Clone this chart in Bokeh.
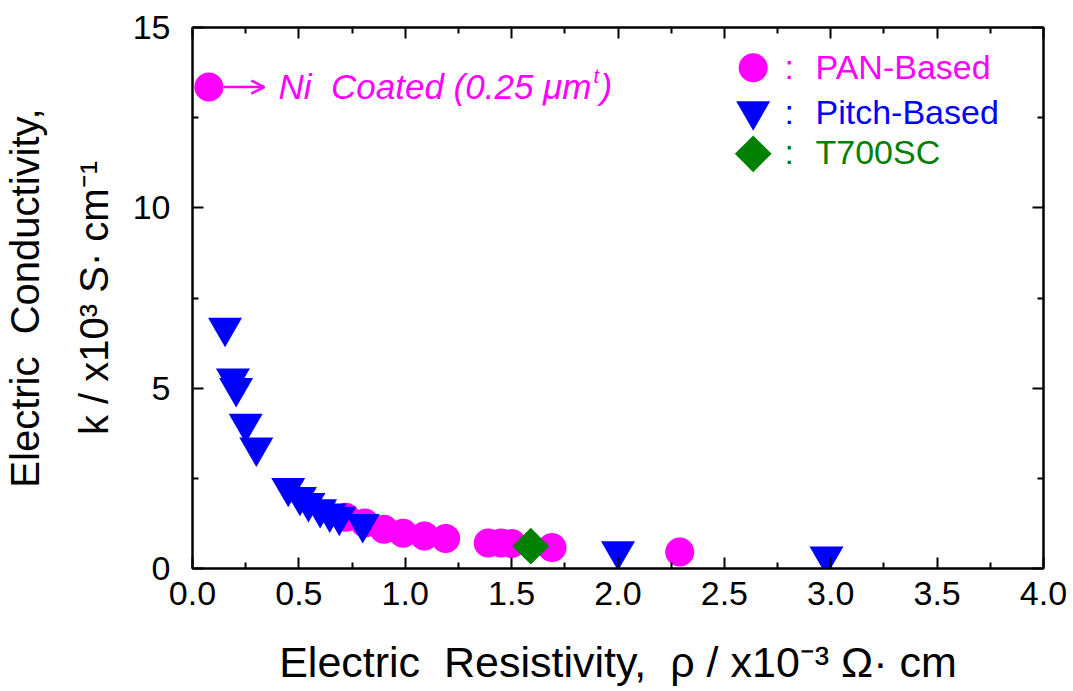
import math
from bokeh.plotting import figure
from bokeh.models import (Range1d, LinearAxis, FixedTicker, NumeralTickFormatter,
                          Label, Arrow, OpenHead)
from bokeh.embed import file_html
from bokeh.resources import INLINE

# ---------------- data ----------------
pan_rho = [0.72, 0.81, 0.90, 0.99, 1.09, 1.19, 1.39, 1.45, 1.50, 1.69, 2.29]
pan_kappa = [1.42, 1.26, 1.09, 0.98, 0.90, 0.83, 0.71, 0.71, 0.69, 0.58, 0.46]

pitch_rho = [0.153, 0.19, 0.205, 0.25, 0.30, 0.45, 0.505, 0.545, 0.60, 0.645, 0.69, 0.80, 2.0, 2.98]
pitch_kappa = [6.68, 5.27, 5.01, 4.02, 3.36, 2.24, 1.99, 1.82, 1.65, 1.53, 1.44, 1.24, 0.485, 0.34]

t700_rho = [1.59]
t700_kappa = [0.62]

ni_rho = [0.077]
ni_kappa = [13.35]

x_ticks = [0.0, 0.5, 1.0, 1.5, 2.0, 2.5, 3.0, 3.5, 4.0]
x_minor = [0.25, 0.75, 1.25, 1.75, 2.25, 2.75, 3.25, 3.75]
y_ticks = [0, 5, 10, 15]
y_minor = [2.5, 7.5, 12.5]

legend_names = ["PAN-Based", "Pitch-Based", "T700SC"]

NB = "\u00a0"
x_title = f"Electric{NB}{NB}Resistivity,{NB}{NB}\u03c1 / x10\u207b\u00b3 \u03a9\u00b7 cm"
y_title = f"Electric{NB}{NB}Conductivity,\nk / x10\u00b3 S\u00b7 cm\u207b\u00b9"

# ---------------- layout ----------------
W, H = 1073, 691
FL, FR, FT, FB = 190, 1043, 27, 568
XMAX, YMAX = 4.0, 15.0
FONT = "Liberation Sans"
MAGENTA, BLUE, GREEN = "#FF00FF", "#0000FF", "#008000"

def dx(px):
    return (px - FL) / (FR - FL) * XMAX

def dy(py):
    return (FB - py) / (FB - FT) * YMAX

p = figure(width=W, height=H, x_range=Range1d(0, XMAX), y_range=Range1d(0, YMAX),
           output_backend="svg", toolbar_location=None,
           min_border_left=FL, min_border_right=W - FR,
           min_border_top=FT, min_border_bottom=H - FB)
p.background_fill_color = "white"
p.border_fill_color = "white"
p.xgrid.grid_line_color = None
p.ygrid.grid_line_color = None
p.outline_line_color = "black"
p.outline_line_width = 2

def style_axis(ax, ticks, minor, show_labels, standoff=8):
    ax.ticker = FixedTicker(ticks=ticks, minor_ticks=minor)
    ax.axis_line_width = 2
    ax.axis_line_color = "black"
    ax.major_tick_in = 11
    ax.major_tick_out = 0
    ax.minor_tick_in = 6
    ax.minor_tick_out = 0
    ax.major_tick_line_width = 2
    ax.minor_tick_line_width = 2
    ax.major_label_text_font = FONT
    ax.major_label_text_color = "black"
    ax.major_label_text_font_size = "34px"
    ax.major_label_standoff = standoff
    if not show_labels:
        ax.major_label_overrides = {t: "" for t in ticks}
        ax.major_label_standoff = 0

xa = p.xaxis[0]
ya = p.yaxis[0]
style_axis(xa, x_ticks, x_minor, True, standoff=13)
xa.formatter = NumeralTickFormatter(format="0.0")
style_axis(ya, y_ticks, y_minor, True, standoff=22)

xa.axis_label = x_title
xa.axis_label_text_font = FONT
xa.axis_label_text_font_style = "normal"
xa.axis_label_text_color = "black"
xa.axis_label_text_font_size = "43px"
xa.axis_label_standoff = 30

ya.axis_label = y_title
ya.axis_label_text_font = FONT
ya.axis_label_text_font_style = "normal"
ya.axis_label_text_color = "black"
ya.axis_label_text_font_size = "40px"
ya.axis_label_text_line_height = 1.55
ya.axis_label_standoff = 14

top_ax = LinearAxis()
style_axis(top_ax, x_ticks, x_minor, False)
p.add_layout(top_ax, "above")
right_ax = LinearAxis()
style_axis(right_ax, y_ticks, y_minor, False)
p.add_layout(right_ax, "right")

# ---------------- data markers ----------------
p.scatter(pan_rho, pan_kappa, marker="circle", size=29, fill_color=MAGENTA, line_color=None)
p.scatter(ni_rho, ni_kappa, marker="circle", size=29, fill_color=MAGENTA, line_color=None)
p.scatter(pitch_rho, pitch_kappa, marker="inverted_triangle", size=34, fill_color=BLUE, line_color=None)
p.scatter(t700_rho, t700_kappa, marker="square", angle=math.pi / 4, size=26, fill_color=GREEN, line_color=None)

# ---------------- text helper (positions given as visual centre line) ----------------
def lab(text, px, py, size, color="black", style="normal"):
    p.add_layout(Label(x=px - FL, y=FB - py, x_units="screen", y_units="screen", text=text,
                       text_font=FONT, text_font_size=f"{size}px", text_color=color,
                       text_font_style=style, text_align="left", text_baseline="middle"))

# Ni coated annotation
p.add_layout(Arrow(x_start=dx(221), y_start=ni_kappa[0], x_end=dx(262), y_end=ni_kappa[0],
                   line_color=MAGENTA, line_width=2.5,
                   end=OpenHead(size=13, line_color=MAGENTA, line_width=2.5)))
lab(f"Ni{NB}{NB}Coated (0.25 \u03bcm", 276, 86, 35, MAGENTA, "italic")
lab("t", 591, 75, 20, MAGENTA, "italic")
lab(")", 598, 86, 35, MAGENTA, "italic")

# legend
leg_x = dx(752)
p.scatter([leg_x], [dy(67.3)], marker="circle", size=29, fill_color=MAGENTA, line_color=None)
p.scatter([leg_x], [dy(110.5)], marker="inverted_triangle", size=34, fill_color=BLUE, line_color=None)
p.scatter([leg_x], [dy(153.3)], marker="square", angle=math.pi / 4, size=26, fill_color=GREEN, line_color=None)
for name, col, mid in zip(legend_names, [MAGENTA, BLUE, GREEN], [66.5, 111.5, 151.5]):
    lab(":", 782, mid, 34, col)
    lab(name, 813, mid, 34, col)

open("out.html", "w").write(file_html(p, INLINE))
